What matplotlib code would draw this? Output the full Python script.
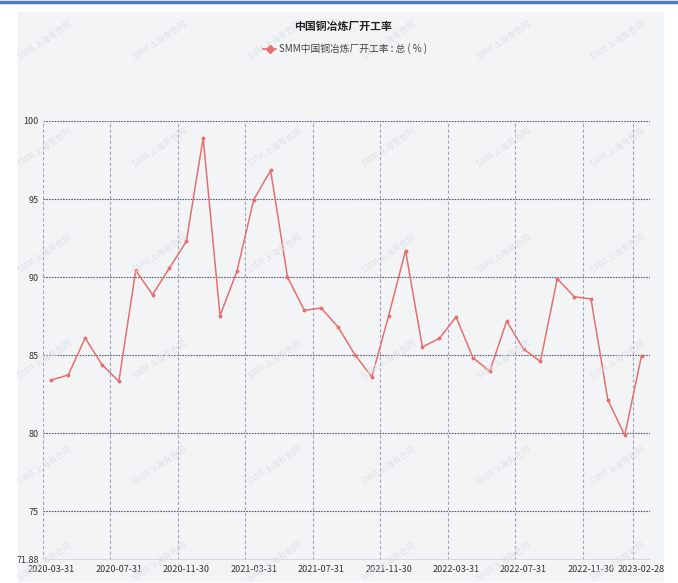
import matplotlib
matplotlib.use('Agg')
from matplotlib import pyplot as plt
from matplotlib.patches import Rectangle
from matplotlib.lines import Line2D
import pandas as pd

plt.rcParams['font.family'] = ['Noto Sans CJK SC', 'DejaVu Sans']

# monthly dates, 2020-03-31 .. 2023-02-28
months = pd.period_range('2020-03', '2023-02', freq='M')
date_labels = [p.end_time.strftime('%Y-%m-%d') for p in months]

# SMM China copper smelter operating rate (%)
rate = [83.40, 83.72, 86.09, 84.38, 83.31, 90.42, 88.87, 90.58, 92.28, 98.91,
        87.52, 90.36, 94.96, 96.83, 90.00, 87.86, 88.01, 86.79, 85.02, 83.59,
        87.52, 91.69, 85.51, 86.06, 87.44, 84.83, 83.95, 87.18, 85.38, 84.59,
        89.89, 88.74, 88.59, 82.13, 79.85, 84.96]

title = '中国铜冶炼厂开工率'
series_name = 'SMM中国铜冶炼厂开工率 : 总 ( % )'
y_ticks = [71.88, 75, 80, 85, 90, 95, 100]
y_tick_labels = ['71.88', '75', '80', '85', '90', '95', '100']
label_idx = [0, 4, 8, 12, 16, 20, 24, 28, 32, 35]

W, H = 678, 583
fig = plt.figure(figsize=(W / 100, H / 100), dpi=100)
fig.patch.set_facecolor('white')

# grey panel and blue strip on top
fig.add_artist(Rectangle((18 / W, 1 - 581 / H), (663 - 18) / W, (581 - 12) / H,
                         transform=fig.transFigure, color='#f3f4f6', zorder=0))
fig.add_artist(Line2D([0, 1], [1 - 2 / H, 1 - 2 / H], transform=fig.transFigure,
                      color='#4d7cc6', lw=2.5))

# watermarks
for wx in [45, 160, 275, 389, 504, 618]:
    for wy in [41, 148, 254, 360, 466, 562]:
        fig.text(wx / W, 1 - wy / H, 'SMM 上海有色网', rotation=34, color='#e0e1e6',
                 fontsize=6, ha='center', va='center', zorder=1)

ax = fig.add_axes([43 / W, 1 - 559.7 / H, (650 - 43) / W, (559.7 - 121) / H])
ax.set_facecolor('none')

x = list(range(len(rate)))
ax.set_xlim(-0.5, len(rate) - 0.5)
ax.set_ylim(71.88, 100)

for v in y_ticks[1:]:
    ax.axhline(v, color='#5b5b7a', lw=0.8, ls=(0, (1.5, 1)), zorder=1)
bounds = [i - 0.5 for i in label_idx] + [len(rate) - 0.5]
for b in bounds:
    ax.axvline(b, color='#a3a5c0', lw=0.8, ls=(0, (3, 2)), zorder=1)
ax.axhline(71.88, color='#d3d5e3', lw=2, zorder=1)

ax.plot(x, rate, color='#e57070', lw=1.1, marker='o', ms=1.8, zorder=3)

for s in ax.spines.values():
    s.set_visible(False)
ax.set_yticks(y_ticks)
ax.set_yticklabels(y_tick_labels)
ax.set_xticks(label_idx)
ax.set_xticklabels([date_labels[i] for i in label_idx])
ax.tick_params(length=0, labelsize=6.5, colors='#333333')
ax.tick_params(axis='x', pad=3.5)
ax.tick_params(axis='y', pad=3)

fig.text(343 / W, 1 - 27 / H, title, ha='center', va='center', fontsize=7.8,
         fontweight='bold', color='#222222')
handle = Line2D([], [], color='#e57070', lw=1.2, marker='D', ms=4)
fig.legend([handle], [series_name], loc='center', bbox_to_anchor=(345 / W, 1 - 49 / H),
           frameon=False, fontsize=7, handlelength=1.4, handletextpad=0.3,
           labelcolor='#444444')

fig.savefig('out.png', dpi=100)
